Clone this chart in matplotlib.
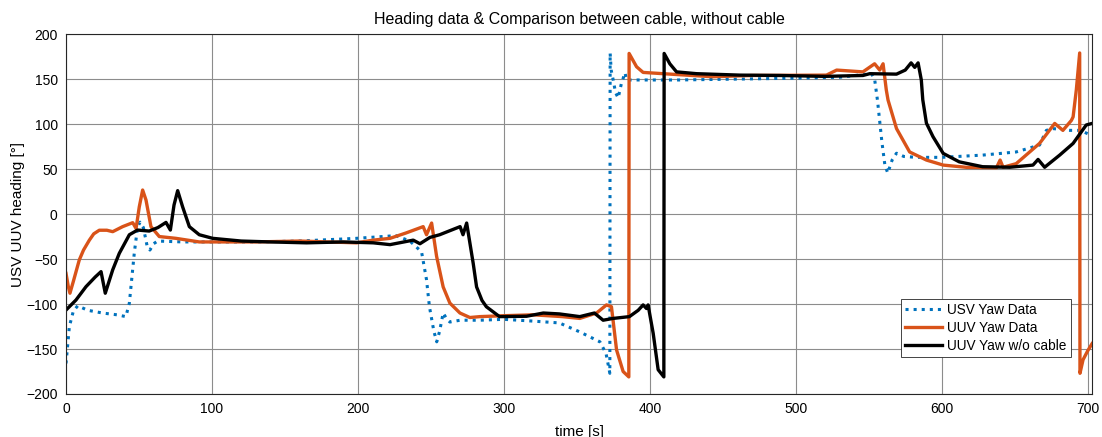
import numpy as np
import matplotlib.pyplot as plt

plt.rcParams['font.family'] = ['Liberation Sans', 'DejaVu Sans']

# USV yaw (blue dotted)
t_usv = [0, 2.3, 5, 8, 15, 25, 35, 41, 43.4, 46.8, 49, 50.7, 53, 55.5, 57.5, 60, 62.8,
         80, 100, 130, 160, 199, 226, 235.6, 243.6, 247, 249, 252, 254, 256, 258.4, 261,
         263, 270, 283.6, 300, 320, 338, 352, 365.8, 370, 372.6, 372.8, 373.5, 374.9,
         376.5, 378.3, 380.5, 383, 384, 390, 420, 460, 500, 530, 551.8, 554, 556, 559,
         561, 563, 566, 569, 574, 582.6, 600, 628, 651, 667, 671.7, 676, 687.7, 695, 703]
v_usv = [-166, -125, -108, -102, -107, -110, -112, -114, -99, -43, -15, -9, -15, -35, -40,
         -33, -30, -31, -31, -31, -30, -27, -24, -30, -42, -73, -103, -130, -142, -130,
         -110, -117, -120, -118, -118, -117, -119, -121, -131, -142, -155, -177, 179, 160,
         149, 135, 129, 145, 157, 149, 149, 149, 150, 151, 152, 156, 150, 126, 80, 55,
         45.5, 60, 67.6, 64, 63, 63, 65.5, 69, 76.7, 93, 95, 93, 93, 87]

# UUV yaw with cable (orange)
t_uuv = [0, 1.5, 2.7, 5, 9.1, 12, 16, 19, 22.8, 28, 32, 38.8, 45.7, 48, 50.2, 52.5, 54.8,
         58.2, 63.9, 75.3, 91.3, 100, 130, 160, 199, 210.5, 222, 233, 244.7, 247, 250.5,
         253.9, 258.4, 263, 269.9, 276.7, 283.6, 300, 320, 340, 352, 363.5, 370.3, 373.7,
         377.2, 381.7, 385.6, 385.8, 390.9, 395.4, 409, 443, 470, 521, 528, 546, 554,
         557.5, 559.8, 562, 563.2, 569, 578, 589.5, 601, 617, 637.5, 640, 642, 651, 667,
         677.4, 683, 688.8, 690, 692.2, 694.5, 694.7, 696.8, 700, 703]
v_uuv = [-66, -80, -88, -75, -51, -40, -29, -22, -18, -18, -19.6, -14, -9.6, -16, 8, 26.7,
         15.6, -14, -25, -27, -31, -31, -31, -30, -32, -29, -27, -21, -14, -23, -10, -47,
         -81, -99, -110, -115, -114, -113, -112, -114, -116, -110, -101, -103, -151, -175,
         -181, 178.5, 163.7, 157.4, 156, 152.6, 154, 154.4, 160, 158, 167, 160, 167, 138,
         126.7, 95, 69, 60, 54.4, 51.9, 51.5, 60, 52, 56, 78.5, 100.7, 93, 104, 108, 138,
         179, -177, -162, -152, -144]

# UUV yaw without cable (black)
t_nc = [0, 6.8, 13.7, 20, 24, 26.9, 32, 36.5, 43.4, 49, 57, 63, 68.5, 71.5, 74, 76.5, 79.9,
        84.5, 91.3, 100.5, 120, 140, 164.8, 190, 210.5, 222, 237.9, 242.5, 249.3, 256, 270,
        272, 274.5, 279, 281.3, 285, 288, 297, 315.5, 327, 338, 352, 362, 368, 374.9, 386,
        392, 395.4, 397.7, 398.8, 402.3, 405.7, 409.6, 409.8, 413.7, 418.3, 432, 461.6,
        489, 520, 546, 550.7, 569, 575, 579, 581.5, 583.8, 586, 587, 589.5, 594, 601, 612,
        628, 646.6, 662.5, 666, 670.5, 680.8, 690, 699, 703]
v_nc = [-106.7, -95.6, -80.7, -70, -64, -88, -62, -43.7, -23, -17.8, -18.9, -15, -9.3,
        -17.8, 10, 26, 8, -14, -23, -27, -30, -31, -32, -31, -32, -34, -29, -33, -26, -23,
        -14, -23, -10, -55, -81, -96, -103, -114, -113.6, -110, -111, -114, -110, -118,
        -116, -114, -107, -101, -105, -101, -132.6, -173, -181, 178.5, 167, 158, 156,
        154.4, 154, 153, 154, 156, 155.5, 160, 168, 163, 168, 149, 127, 101, 86, 67.4, 58,
        52.6, 52, 54.4, 60.7, 52, 65.5, 78.5, 99, 100.7]

fig = plt.figure(figsize=(11.02, 4.37), dpi=100)
ax = fig.add_axes([0.0599, 0.0984, 0.9311, 0.8236])

ax.plot(t_usv, v_usv, ':', color='#0072BD', linewidth=2.2, label='USV Yaw Data')
ax.plot(t_uuv, v_uuv, '-', color='#D95319', linewidth=2.4, label='UUV Yaw Data')
ax.plot(t_nc, v_nc, '-', color='black', linewidth=2.4, label='UUV Yaw w/o cable')

ax.set_xlim(0, 703)
ax.set_ylim(-200, 200)
ax.set_xticks(np.arange(0, 701, 100))
ax.set_yticks(np.arange(-200, 201, 50))
ax.grid(True, color='#8c8c8c', linewidth=0.8)
ax.tick_params(labelsize=10, length=0, pad=6)
for s in ax.spines.values():
    s.set_color('#262626')
    s.set_linewidth(0.8)

ax.set_title('Heading data & Comparison between cable, without cable', fontsize=11.5, pad=7)
ax.set_xlabel('time [s]', fontsize=11, labelpad=6)
ax.set_ylabel('USV UUV heading [°]', fontsize=11, labelpad=1)

leg = ax.legend(loc='lower right', bbox_to_anchor=(0.979, 0.103), borderaxespad=0,
                fontsize=9.8, fancybox=False, framealpha=1, edgecolor='#262626',
                handlelength=2.7, borderpad=0.3, labelspacing=0.3, handletextpad=0.4)
leg.get_frame().set_linewidth(0.6)

fig.savefig('out.png', dpi=100)
